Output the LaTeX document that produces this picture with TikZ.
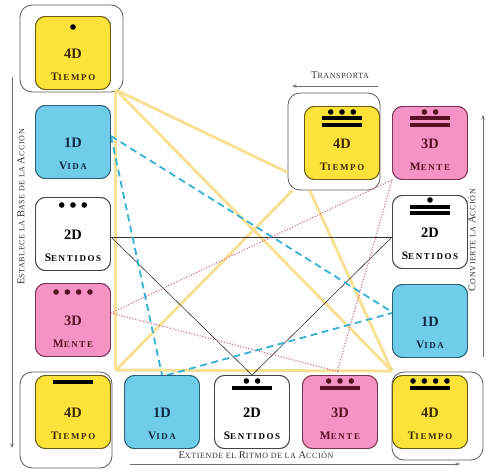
\documentclass[tikz,border=0pt]{standalone}
\usepackage{fontspec}
\setmainfont{Liberation Serif}
\newfontfamily\boxfont[LetterSpace=18]{Liberation Serif}
\newfontfamily\labfont[LetterSpace=8]{Liberation Serif}
\usetikzlibrary{calc,arrows.meta}
\definecolor{yel}{HTML}{FDE23A}
\definecolor{yeld}{HTML}{6B5A14}
\definecolor{yelt}{HTML}{3A2A05}
\definecolor{blu}{HTML}{6FCDEA}
\definecolor{blud}{HTML}{2C5F73}
\definecolor{blut}{HTML}{102A45}
\definecolor{pnk}{HTML}{F394C4}
\definecolor{pnkd}{HTML}{7A3352}
\definecolor{pnkt}{HTML}{5A1025}
\definecolor{whd}{HTML}{444444}
\definecolor{frm}{HTML}{5A5A5A}
\definecolor{ylin}{HTML}{F5DC84}
\definecolor{blin}{HTML}{34B2D6}
\definecolor{plin}{HTML}{D8668A}
\definecolor{klin}{HTML}{333333}
\definecolor{labc}{HTML}{333333}
\newcommand\BB[1]{{\fontsize{11.5}{11.5}\selectfont #1}}
\newcommand\LB[1]{{\fontsize{10.5}{10.5}\selectfont #1}}
\newcommand\mdots[4]{\foreach \k in {1,...,#2}{\fill[#4] ($(#1.center)+({(\k-(#2+1)/2)*11.3},#3)$) circle[radius=2.8pt];}}
\newcommand\mbar[3]{\fill[#3] ($(#1.center)+(-20,#2-1.6)$) rectangle ($(#1.center)+(20,#2+1.6)$);}
\tikzset{
  frame/.style={draw=frm, line width=0.8pt, fill=white, rounded corners=12bp},
  dbox/.style={draw, line width=0.9pt, rounded corners=10bp, minimum width=75bp, minimum height=73bp, inner sep=0pt},
  tbox/.style={dbox, fill=yel, draw=yeld},
  vbox/.style={dbox, fill=blu, draw=blud},
  sbox/.style={dbox, fill=white, draw=whd},
  mbox/.style={dbox, fill=pnk, draw=pnkd},
  dnum/.style={font=\bfseries\fontsize{14.5}{14.5}\selectfont, inner sep=0pt},
  dname/.style={font=\boxfont\bfseries\fontsize{9}{9}\selectfont, inner sep=0pt},
  lab/.style={font=\labfont\fontsize{8}{8}\selectfont, text=labc, inner sep=0pt},
  ylink/.style={draw=ylin, line width=3pt, opacity=0.85},
  blink/.style={draw=blin, line width=1.8pt, dash pattern=on 7pt off 4.5pt},
  klink/.style={draw=klin, line width=0.6pt},
  plink/.style={draw=plin, line width=1.5pt, line cap=round, dash pattern=on 0pt off 2.8pt},
  arr/.style={draw=labc!70, line width=0.6pt, -{Stealth[length=4.5pt,width=3.5pt]}}
}
\begin{document}
\begin{tikzpicture}[x=1bp,y=-1bp]
\useasboundingbox (0,0) rectangle (501,472);
% frames
\node[frame, minimum width=103bp, minimum height=87bp] (f1) at (71.5,48.5) {};
\node[frame, minimum width=92bp, minimum height=96bp] (f5) at (66,420) {};
\node[frame, minimum width=91bp, minimum height=88bp] (f9) at (437.5,416) {};
\node[frame, minimum width=92bp, minimum height=97bp] (f13) at (334,141.5) {};
% box positions
\path
 (73,53) coordinate (c1)
 (73,142) coordinate (c2)
 (73,234) coordinate (c3)
 (73,320) coordinate (c4)
 (73,412) coordinate (c5)
 (162,412) coordinate (c6)
 (252,412) coordinate (c7)
 (340,412) coordinate (c8)
 (430,412) coordinate (c9)
 (430,321) coordinate (c10)
 (430,232) coordinate (c11)
 (430,143) coordinate (c12)
 (342,143) coordinate (c13);
\node[tbox] (t1) at (c1) {};
\node[vbox] (v1) at (c2) {};
\node[sbox] (s1) at (c3) {};
\node[mbox] (m1) at (c4) {};
\node[tbox] (t5) at (c5) {};
\node[vbox] (v2) at (c6) {};
\node[sbox] (s2) at (c7) {};
\node[mbox] (m2) at (c8) {};
\node[tbox] (t9) at (c9) {};
\node[vbox] (v3) at (c10) {};
\node[sbox] (s3) at (c11) {};
\node[mbox] (m3) at (c12) {};
\node[tbox] (t13) at (c13) {};
% connector anchor points
\coordinate (ya) at ($(t1.south east)+(5,0)$);
\coordinate (yb) at ($(t5.north east)+(5,-5)$);
\coordinate (yc) at ($(t9.north west)+(0,-4)$);
\coordinate (yd) at ($(f13.south west)+(0,-18)$);
\coordinate (ye) at ($(f13.south west)+(5,0)$);
\coordinate (yf) at ($(f13.south west)+(22,0)$);
% yellow links (4D)
\draw[ylink] (ya) -- (yb);
\draw[ylink] (yb) -- (yc);
\draw[ylink] (ya) -- (yc);
\draw[ylink] (ya) -- (yd);
\draw[ylink] (yb) -- (ye);
\draw[ylink] (yf) -- (yc);
% black links (2D)
\draw[klink] ($(s1.east)+(0,3)$) -- ($(s3.west)+(0,5)$);
\draw[klink] ($(s1.east)+(0,3)$) -- (s2.north);
\draw[klink] (s2.north) -- ($(s3.west)+(0,5)$);
% pink links (3D)
\draw[plink] ($(m1.east)+(0,-7)$) -- (m3.south west);
\draw[plink] ($(m1.east)+(0,-7)$) -- ($(m2.north)+(0,-3)$);
\draw[plink] (m3.south west) -- ($(m2.north)+(-3,-3)$);
% blue links (1D)
\draw[blink] ($(v1.east)+(0,-6)$) -- ($(v3.west)+(0,-9)$);
\draw[blink] ($(v1.east)+(0,-6)$) -- (v2.north);
\draw[blink] ($(v2.north)+(5,0)$) -- ($(v3.west)+(0,-8)$);
% redraw boxes on top
\node[tbox] at (t1) {};
\node[vbox] at (v1) {};
\node[sbox] at (s1) {};
\node[mbox] at (m1) {};
\node[tbox] at (t5) {};
\node[vbox] at (v2) {};
\node[sbox] at (s2) {};
\node[mbox] at (m2) {};
\node[tbox] at (t9) {};
\node[vbox] at (v3) {};
\node[sbox] at (s3) {};
\node[mbox] at (m3) {};
\node[tbox] at (t13) {};
% texts
\foreach \n/\d/\nm/\tc in {t1/4D/\BB{T}IEMPO/yelt, t5/4D/\BB{T}IEMPO/yelt, t9/4D/\BB{T}IEMPO/yelt, t13/4D/\BB{T}IEMPO/yelt,
  v1/1D/\BB{V}IDA/blut, v2/1D/\BB{V}IDA/blut, v3/1D/\BB{V}IDA/blut,
  s1/2D/\BB{S}ENTIDOS/black, s2/2D/\BB{S}ENTIDOS/black, s3/2D/\BB{S}ENTIDOS/black,
  m1/3D/\BB{M}ENTE/pnkt, m2/3D/\BB{M}ENTE/pnkt, m3/3D/\BB{M}ENTE/pnkt}{
  \node[dnum, text=\tc] (\n-d) at ($(\n.center)+(0,1)$) {\d};
  \node[dname, text=\tc] (\n-n) at ($(\n.center)+(0,24)$) {\nm};
}
% numerals
\mdots{t1}{1}{-26}{black}
\mdots{s1}{3}{-29}{black}
\mdots{m1}{4}{-28}{pnkt}
\mbar{t5}{-30}{black}
\mdots{s2}{2}{-31}{black}\mbar{s2}{-24}{black}
\mdots{m2}{3}{-31}{pnkt}\mbar{m2}{-24}{pnkt}
\mdots{t9}{4}{-31}{black}\mbar{t9}{-24}{black}
\mdots{s3}{1}{-32}{black}\mbar{s3}{-25}{black}\mbar{s3}{-19}{black}
\mdots{m3}{2}{-31}{pnkt}\mbar{m3}{-25}{pnkt}\mbar{m3}{-18}{pnkt}
\mdots{t13}{3}{-31}{black}\mbar{t13}{-25}{black}\mbar{t13}{-18}{black}
% side arrows and labels
\coordinate (la1) at (12,77); \coordinate (la2) at (12,448);
\draw[arr] (la1) -- (la2);
\node[lab, rotate=90] (lt) at (21,207) {\LB{E}STABLECE LA \LB{B}ASE DE LA \LB{A}CCIÓN};
\coordinate (ra1) at (483,357); \coordinate (ra2) at (483,115);
\draw[arr] (ra1) -- (ra2);
\node[lab, rotate=90] (rt) at (472,240) {\LB{C}ONVIERTE LA \LB{A}CCIÓN};
\coordinate (ba1) at (130,464); \coordinate (ba2) at (460,464);
\draw[arr] (ba1) -- (ba2);
\node[lab] (bt) at (256,455) {\LB{E}XTIENDE EL \LB{R}ITMO DE LA \LB{A}CCIÓN};
\coordinate (ta1) at (378,86); \coordinate (ta2) at (292,86);
\draw[arr] (ta1) -- (ta2);
\node[lab] (tt) at (340,75) {\LB{T}RANSPORTA};
\end{tikzpicture}
\end{document}
